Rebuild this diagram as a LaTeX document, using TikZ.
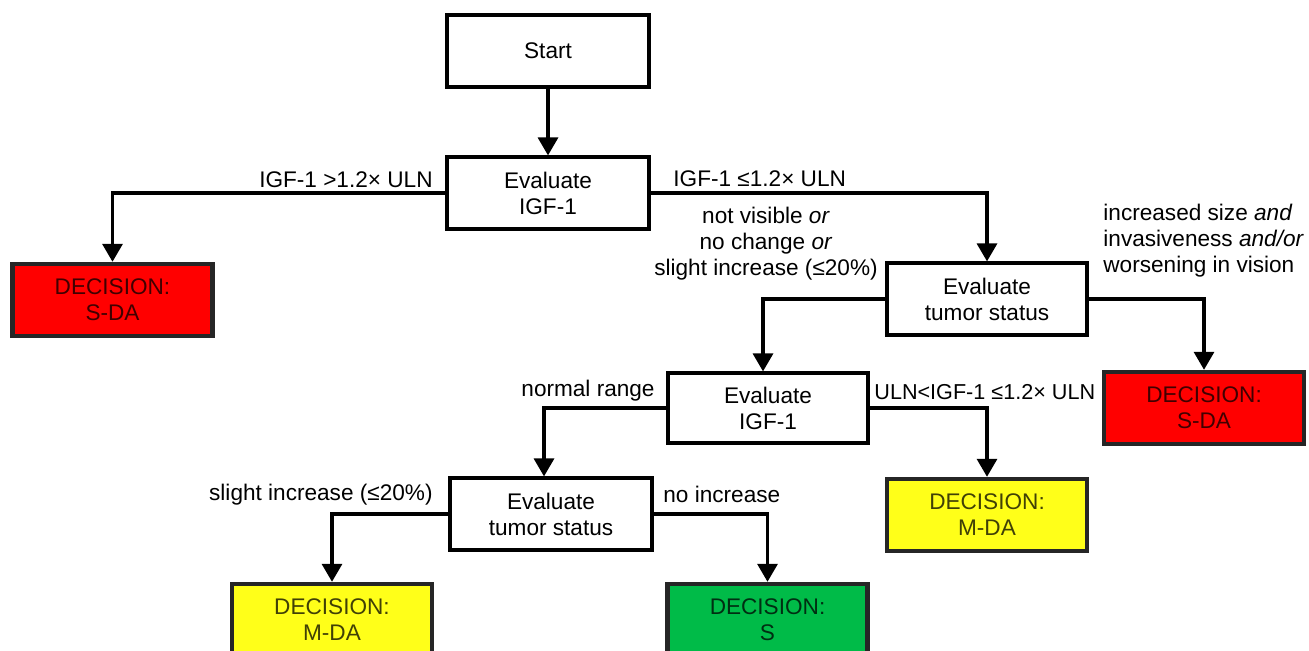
\documentclass[tikz,border=0pt]{standalone}
\usepackage{fontspec}
\setmainfont{Liberation Sans}
\usetikzlibrary{arrows.meta}
\definecolor{dred}{HTML}{FF0000}
\definecolor{dyel}{HTML}{FFFF19}
\definecolor{dgrn}{HTML}{00BB48}
\begin{document}
\begin{tikzpicture}[x=0.5pt,y=-0.5pt,
  every node/.style={font=\fontsize{11.3}{13}\selectfont},
  evalbox/.style={draw=black, line width=1.6pt, fill=white, minimum width=101pt, minimum height=36pt, align=center, inner sep=0pt},
  decbox/.style={draw=black!85, line width=2.2pt, minimum width=100pt, minimum height=36pt, align=center, inner sep=0pt, text opacity=0.75},
  conn/.style={line width=1.65pt, -{Triangle[width=10pt,length=9pt]}},
  lbl/.style={inner sep=0pt, align=center}
]
\useasboundingbox (0,0) rectangle (1309,651);
% nodes
\node[evalbox] (start) at (548,51) {Start};
\node[evalbox] (igf1) at (548,193) {Evaluate\\IGF-1};
\node[decbox, fill=dred] (sda1) at (112.5,300) {DECISION:\\S-DA};
\node[evalbox, minimum width=100pt] (tum1) at (987,299) {Evaluate\\tumor status};
\node[decbox, fill=dred] (sda2) at (1204,408) {DECISION:\\S-DA};
\node[evalbox, minimum width=100pt, minimum height=35pt] (igf2) at (768,408) {Evaluate\\IGF-1};
\node[evalbox] (tum2) at (551,514) {Evaluate\\tumor status};
\node[decbox, fill=dyel] (mda1) at (987,515) {DECISION:\\M-DA};
\node[decbox, fill=dyel] (mda2) at (332,620) {DECISION:\\M-DA};
\node[decbox, fill=dgrn] (s) at (767.5,620) {DECISION:\\S};
% connectors
\draw[conn] (start.south) -- (igf1.north);
\draw[conn] (igf1.west) -| (sda1.north);
\draw[conn] (igf1.east) -| (tum1.north);
\draw[conn] (tum1.east) -| (sda2.north);
\draw[conn] (tum1.west) -| ([xshift=-2.5pt]igf2.north);
\draw[conn] (igf2.west) -| ([xshift=-3.5pt]tum2.north);
\draw[conn] (igf2.east) -| (mda1.north);
\draw[conn] (tum2.west) -| (mda2.north);
\draw[conn] (tum2.east) -| (s.north);
% labels
\node[lbl, anchor=east] (l1) at (433,180) {IGF-1 >1.2× ULN};
\node[lbl, anchor=west] (l2) at (673,179) {IGF-1 ≤1.2× ULN};
\node[lbl, anchor=north] (l3) at (766,207) {not visible \textit{or}\\no change \textit{or}\\slight increase (≤20\%)};
\node[lbl, anchor=north west, align=left] (l4) at (1103,204) {increased size \textit{and}\\invasiveness \textit{and/or}\\worsening in vision};
\node[lbl, anchor=east] (l5) at (655,391) {normal range};
\node[lbl, anchor=west, font=\fontsize{10.8}{13}\selectfont] (l6) at (874,392) {ULN<IGF-1 ≤1.2× ULN};
\node[lbl, anchor=east] (l7) at (433,495) {slight increase (≤20\%)};
\node[lbl, anchor=west] (l8) at (663,494) {no increase};
\end{tikzpicture}
\end{document}
